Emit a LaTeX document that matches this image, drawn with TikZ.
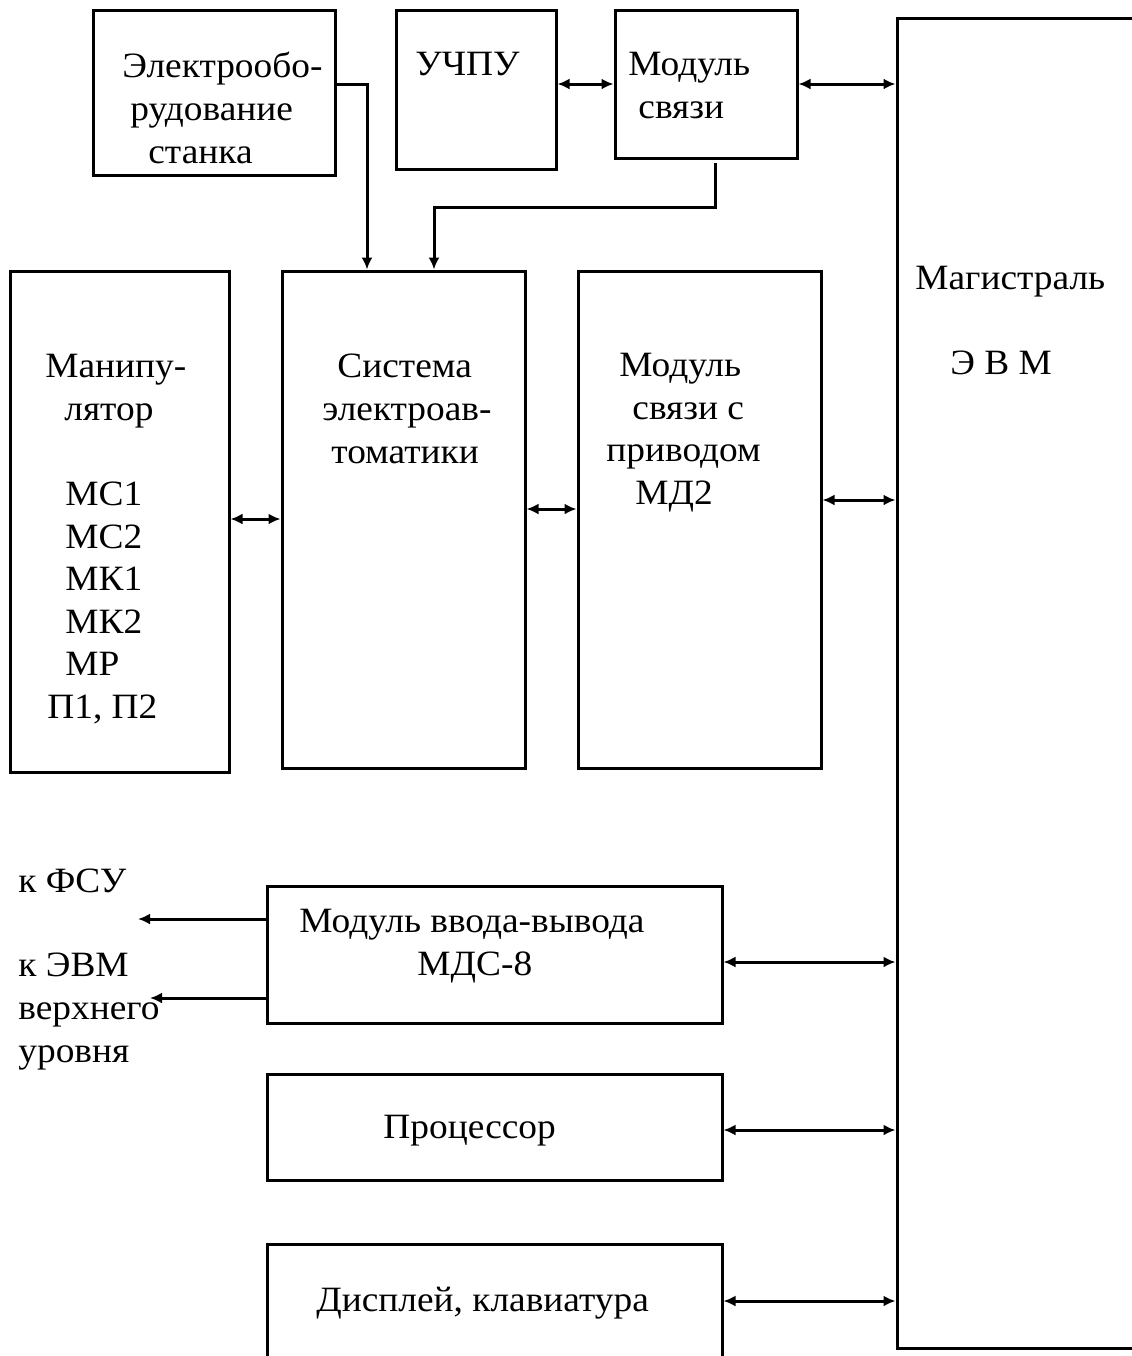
\documentclass[tikz,border=0pt]{standalone}
\usepackage{fontspec}
\setmainfont{Liberation Serif}[FakeStretch=1.05]
\usetikzlibrary{arrows.meta}
\usetikzlibrary{fit}

\tikzset{
  blok/.style={draw, line width=1.5pt, inner sep=0pt},
  nadp/.style={inner sep=0pt, align=left, anchor=north west, font=\fontsize{17.8pt}{21.3pt}\selectfont},
  svyaz/.style={line width=1.5pt, {Latex[length=6pt,width=5.5pt]}-{Latex[length=6pt,width=5.5pt]}},
  vyhod/.style={line width=1.5pt, -{Latex[length=6pt,width=5.5pt]}}
}

\begin{document}
\begin{tikzpicture}[x=0.5pt,y=-0.5pt]
    \useasboundingbox (0,0) rectangle (1131,1356);

    \node[blok, fit={(93,10) (335,175)}] (elob) {};
    \node[blok, fit={(396,10) (556,169)}] (uchpu) {};
    \node[blok, fit={(615,10) (797,158)}] (ms) {};
    \node[blok, fit={(897,18) (1150,1348)}] (mag) {};
    \node[blok, fit={(10,271) (229,772)}] (manip) {};
    \node[blok, fit={(282,271) (525,768)}] (sea) {};
    \node[blok, fit={(578,271) (821,768)}] (msp) {};
    \node[blok, fit={(267,886) (722,1023)}] (mvv) {};
    \node[blok, fit={(267,1074) (722,1180)}] (proc) {};
    \node[blok, fit={(267,1244) (722,1380)}] (disp) {};

    \node[nadp] (elob-t) at (122,52) {Электрообо-\\\hspace*{4pt}рудование\\\hspace*{13pt}станка};
    \node[nadp] (uchpu-t) at (415,52) {УЧПУ};
    \node[nadp] (ms-t) at (628,52) {Модуль\\\hspace*{5pt}связи};
    \node[nadp] (mag-t) at (915,266) {Магистраль\\[21.3pt]\hspace*{17.5pt}Э В М};
    \node[nadp] (manip-t) at (45,354) {Манипу-\\\hspace*{9.5pt}лятор\\[21.3pt]\hspace*{10pt}МС1\\\hspace*{10pt}МС2\\\hspace*{10pt}МК1\\\hspace*{10pt}МК2\\\hspace*{10pt}МР\\\hspace*{1pt}П1, П2};
    \node[nadp] (sea-t) at (322,354) {\hspace*{7.5pt}Система\\электроав-\\\hspace*{4.5pt}томатики};
    \node[nadp] (msp-t) at (606,353) {\hspace*{6.5pt}Модуль\\\hspace*{13pt}связи с\\приводом\\\hspace*{14.5pt}МД2};
    \node[nadp] (mvv-t) at (299,909) {Модуль ввода-вывода\\\hspace*{59pt}МДС-8};
    \node[nadp] (proc-t) at (383,1115) {Процессор};
    \node[nadp] (disp-t) at (316,1287) {Дисплей, клавиатура};

    \node[nadp, anchor=base west] (fsu-t) at (18,892) {к ФСУ};
    \node[nadp] (evm-t) at (18,953) {к ЭВМ\\верхнего\\уровня};

    \coordinate (ms-out) at (715,163);
    \coordinate (fsu) at (138,919);
    \coordinate (evm) at (150,998);

    \draw[vyhod] (elob.east |- ms.west) -| (sea.north -| 367,0);
    \draw[vyhod] (ms-out) |- (434,207) -- (sea.north -| 434,0);
    \draw[svyaz] (uchpu.east |- ms.west) -- (ms.west);
    \draw[svyaz] (ms.east) -- (ms.east -| mag.west);
    \draw[svyaz] (manip.east |- 0,519) -- (sea.west |- 0,519);
    \draw[svyaz] (sea.east |- 0,509) -- (msp.west |- 0,509);
    \draw[svyaz] (msp.east |- 0,500) -- (mag.west |- 0,500);
    \draw[svyaz] (mvv.east |- 0,962) -- (mag.west |- 0,962);
    \draw[svyaz] (proc.east |- 0,1130) -- (mag.west |- 0,1130);
    \draw[svyaz] (disp.east |- 0,1301) -- (mag.west |- 0,1301);
    \draw[vyhod] (mvv.west |- fsu) -- (fsu);
    \draw[vyhod] (mvv.west |- evm) -- (evm);
\end{tikzpicture}
\end{document}
